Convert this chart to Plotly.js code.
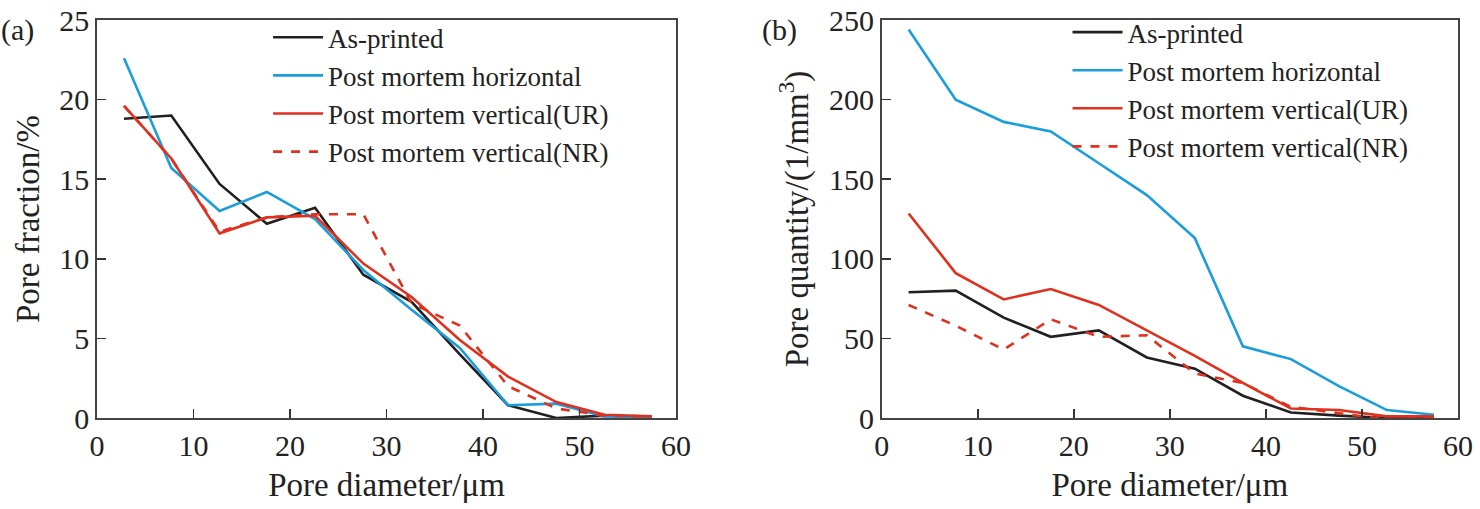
<!DOCTYPE html>
<html>
<head>
<meta charset="utf-8">
<script src="https://cdn.plot.ly/plotly-3.0.1.min.js"></script>
<style>
  html, body { margin: 0; padding: 0; background: #fff; }
  #chart { width: 1480px; height: 509px; }
</style>
</head>
<body>
<div id="chart"></div>
<script>
// pore diameter bins (um)
let diameter = [2.8, 7.7, 12.7, 17.6, 22.6, 27.6, 32.6, 37.6, 42.6, 47.6, 52.6, 57.5];

let seriesNames = ["As-printed", "Post mortem horizontal", "Post mortem vertical(UR)", "Post mortem vertical(NR)"];

// (a) pore fraction, %
let fracAsPrinted = [18.8, 19.0, 14.7, 12.2, 13.2, 9.0, 7.3, 4.0, 0.8, 0.0, 0.15, 0.05];
let fracHorizontal = [22.6, 15.7, 13.0, 14.2, 12.5, 9.3, 6.8, 4.4, 0.8, 0.9, 0.1, 0.05];
let fracVerticalUR = [19.6, 16.3, 11.6, 12.6, 12.7, 9.7, 7.6, 4.9, 2.6, 1.0, 0.2, 0.1];
let fracVerticalNR = [19.6, 16.3, 11.7, 12.6, 12.8, 12.8, 7.2, 5.8, 2.0, 0.6, 0.15, 0.1];

// (b) pore quantity, 1/mm^3
let qtyAsPrinted = [79, 80, 63, 51, 55, 38, 31, 14, 3.5, 1.5, 0, 0.5];
let qtyHorizontal = [244, 200, 186, 180, 160, 140, 113, 45, 37, 20, 5, 2];
let qtyVerticalUR = [128.5, 91, 74.5, 81, 71, 55, 39, 22, 6, 5, 1, 1];
let qtyVerticalNR = [71, 58, 43, 62, 51, 52, 28, 22, 7, 3, -1, 0];

let colors = ["#231f20", "#1a9ddb", "#e0301e", "#e0301e"];
let dashes = ["solid", "solid", "solid", "dash"];

let fracData = [fracAsPrinted, fracHorizontal, fracVerticalUR, fracVerticalNR];
let qtyData = [qtyAsPrinted, qtyHorizontal, qtyVerticalUR, qtyVerticalNR];

let traces = [];
for (let i = 0; i < seriesNames.length; i++) {
    traces.push({
        x: diameter, y: fracData[i], name: seriesNames[i],
        mode: "lines", xaxis: "x", yaxis: "y", legend: "legend",
        line: {color: colors[i], width: 2.6, dash: dashes[i]}
    });
}
for (let i = 0; i < seriesNames.length; i++) {
    traces.push({
        x: diameter, y: qtyData[i], name: seriesNames[i],
        mode: "lines", xaxis: "x2", yaxis: "y2", legend: "legend2",
        line: {color: colors[i], width: 2.6, dash: dashes[i]}
    });
}

let serif = "Liberation Serif, Times New Roman, serif";
let tickFont = {family: serif, size: 30, color: "#222"};
let titleFont = {family: serif, size: 33, color: "#222"};

function xAxis(domain, anchor) {
    return {
        domain: domain, anchor: anchor, range: [0, 60], dtick: 10,
        ticks: "inside", ticklen: 9, tickwidth: 1.5, tickcolor: "#333",
        showline: true, linecolor: "#444", linewidth: 1.8, mirror: true,
        showgrid: false, zeroline: false, tickfont: tickFont,
        ticklabeloverflow: "allow",
        title: {text: "Pore diameter/μm", font: titleFont, standoff: 12}
    };
}
function yAxis(range, dtick, anchor, title) {
    return {
        anchor: anchor, range: range, dtick: dtick,
        ticks: "inside", ticklen: 9, tickwidth: 1.5, tickcolor: "#333",
        showline: true, linecolor: "#444", linewidth: 1.8, mirror: true,
        showgrid: false, zeroline: false, tickfont: tickFont,
        ticklabeloverflow: "allow",
        title: {text: title, font: titleFont, standoff: 10}
    };
}
function legendBox(x, y) {
    return {
        x: x, y: y, xanchor: "left", yanchor: "top",
        font: {family: serif, size: 27, color: "#222"},
        bgcolor: "rgba(0,0,0,0)", tracegroupgap: 0, itemwidth: 50
    };
}

let layout = {
    width: 1480, height: 509,
    margin: {l: 97, r: 22, t: 8, b: 91},
    paper_bgcolor: "#fff", plot_bgcolor: "#fff",
    showlegend: true,
    xaxis: xAxis([0, 0.4254], "y"),
    yaxis: yAxis([0, 25], 5, "x", "Pore fraction/%"),
    xaxis2: xAxis([0.5766, 1], "y2"),
    yaxis2: yAxis([0, 250], 50, "x2", "Pore quantity/(1/mm<sup>3</sup>)"),
    legend: legendBox(0.1257, 1.017),
    legend2: legendBox(0.7131, 1.03),
    annotations: [
        {text: "(a)", xref: "paper", yref: "paper", x: -0.072, y: 1.022, xanchor: "left", yanchor: "top",
         showarrow: false, font: {family: serif, size: 30, color: "#222"}},
        {text: "(b)", xref: "paper", yref: "paper", x: 0.487, y: 1.022, xanchor: "left", yanchor: "top",
         showarrow: false, font: {family: serif, size: 30, color: "#222"}}
    ]
};

Plotly.newPlot("chart", traces, layout, {staticPlot: true});
</script>
</body>
</html>
